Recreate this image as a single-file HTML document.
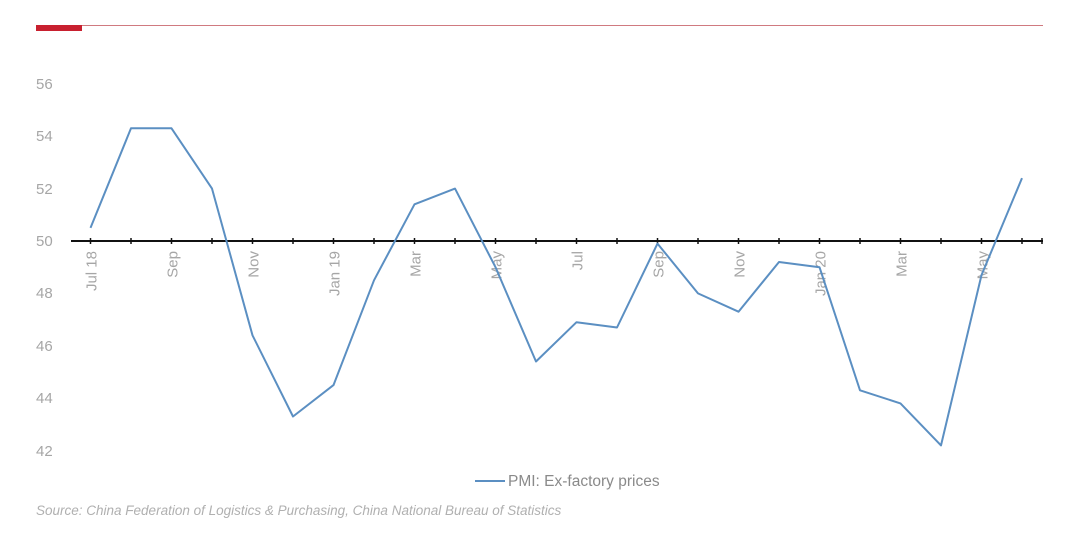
<!DOCTYPE html>
<html><head><meta charset="utf-8"><style>
body{margin:0;background:#fff;}
svg{display:block;font-family:"Liberation Sans",Arial,sans-serif;}
</style></head><body>
<svg width="1080" height="549" viewBox="0 0 1080 549">
<line x1="36" y1="25.5" x2="1043" y2="25.5" stroke="#d07a80" stroke-width="1"/>
<rect x="36" y="25" width="46" height="6" fill="#c8202f"/>
<g fill="#a6a6a6" font-size="15">
<text x="36" y="89">56</text><text x="36" y="141">54</text><text x="36" y="194">52</text>
<text x="36" y="246">50</text><text x="36" y="298">48</text><text x="36" y="351">46</text>
<text x="36" y="403">44</text><text x="36" y="456">42</text>
</g>
<line x1="71" y1="241" x2="1043" y2="241" stroke="#111" stroke-width="2"/>
<g id="ticks" stroke="#111" stroke-width="1.5"></g>
<g id="labs" fill="#a6a6a6" font-size="15"></g>
<polyline id="pl" fill="none" stroke="#5b8fc2" stroke-width="2" stroke-linejoin="round"/>
<line x1="475" y1="481" x2="505" y2="481" stroke="#5b8fc2" stroke-width="2"/>
<text x="508" y="486" fill="#8a8a8a" font-size="15.5">PMI: Ex-factory prices</text>
<text x="36" y="515" fill="#b0b0b0" font-size="13.5" font-style="italic">Source: China Federation of Logistics &amp; Purchasing, China National Bureau of Statistics</text>
</svg>
<script>
var v=[50.5,54.3,54.3,52.0,46.4,43.3,44.5,48.5,51.4,52.0,49.0,45.4,46.9,46.7,49.9,48.0,47.3,49.2,49.0,44.3,43.8,42.2,48.7,52.4];
var names={0:"Jul 18",2:"Sep",4:"Nov",6:"Jan 19",8:"Mar",10:"May",12:"Jul",14:"Sep",16:"Nov",18:"Jan 20",20:"Mar",22:"May"};
var pts=[],t="",l="";
for(var i=0;i<24;i++){var x=90.5+i*40.5,y=241-(v[i]-50)*26.2;pts.push(x.toFixed(1)+","+y.toFixed(1));
t+='<line x1="'+x+'" y1="238" x2="'+x+'" y2="244"/>';
if(names[i])l+='<text transform="translate('+(x+6)+',251) rotate(-90)" text-anchor="end">'+names[i]+'</text>';}
t+='<line x1="1042" y1="238" x2="1042" y2="244"/>';
document.getElementById("pl").setAttribute("points",pts.join(" "));
document.getElementById("ticks").innerHTML=t;
document.getElementById("labs").innerHTML=l;
</script>
</body></html>
